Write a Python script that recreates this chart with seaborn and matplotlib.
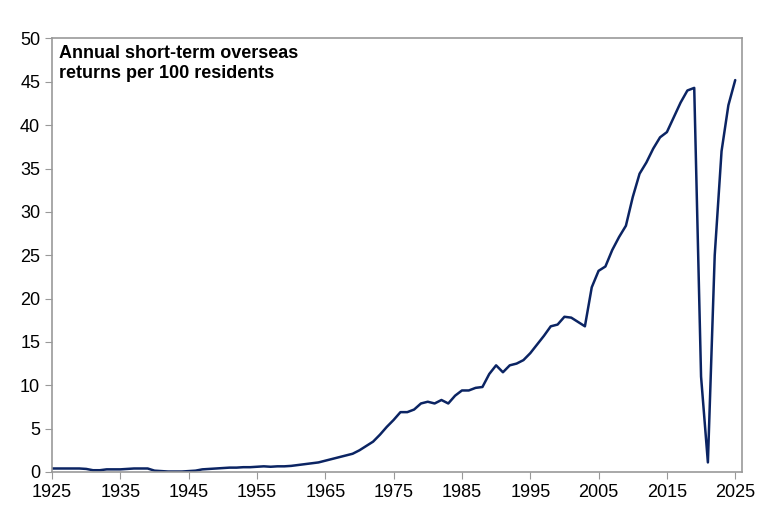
import numpy as np
import pandas as pd
import seaborn as sns
import matplotlib.pyplot as plt

years = list(range(1925, 2026))
returns = [0.4, 0.4, 0.4, 0.4, 0.4, 0.35, 0.2, 0.2, 0.3, 0.3, 0.3, 0.35, 0.4, 0.4, 0.4,
           0.15, 0.1, 0.05, 0.05, 0.05, 0.1, 0.15, 0.3, 0.35, 0.4, 0.45, 0.5, 0.5, 0.55, 0.55,
           0.6, 0.65, 0.6, 0.65, 0.65, 0.7, 0.8, 0.9, 1.0, 1.1, 1.3, 1.5, 1.7, 1.9, 2.1,
           2.5, 3.0, 3.5, 4.3, 5.2, 6.0, 6.9, 6.9, 7.2, 7.9, 8.1, 7.9, 8.3, 7.9, 8.8,
           9.4, 9.4, 9.7, 9.8, 11.3, 12.3, 11.5, 12.3, 12.5, 12.9, 13.7, 14.7, 15.7, 16.8, 17.0,
           17.9, 17.8, 17.3, 16.8, 21.3, 23.2, 23.7, 25.6, 27.1, 28.4, 31.7, 34.4, 35.7, 37.3, 38.6,
           39.2, 40.9, 42.6, 44.0, 44.3, 11.0, 1.1, 25.0, 37.0, 42.3, 45.2]

df = pd.DataFrame({"year": years, "returns": returns})

sns.set_style("white")
plt.rcParams["font.family"] = ["Liberation Sans", "DejaVu Sans"]

fig, ax = plt.subplots(figsize=(7.65, 5.13), dpi=100)
sns.lineplot(data=df, x="year", y="returns", color="#0b2463", linewidth=1.8, ax=ax)

ax.set_xlim(1925, 2026)
ax.set_ylim(0, 50)
ax.set_xticks(range(1925, 2026, 10))
ax.set_yticks(range(0, 51, 5))
ax.set_xlabel("")
ax.set_ylabel("")
for s in ax.spines.values():
    s.set_color("#999999")
    s.set_linewidth(1.2)
ax.tick_params(axis="both", labelsize=13, length=5, color="#999999", labelcolor="black",
               direction="out", bottom=True, left=True)
ax.text(0.01, 0.985, "Annual short-term overseas\nreturns per 100 residents", transform=ax.transAxes,
        fontsize=13, fontweight="bold", va="top", ha="left", linespacing=1.2, color="black")

plt.subplots_adjust(left=0.068, right=0.97, top=0.925, bottom=0.08)
plt.savefig("out.png")
